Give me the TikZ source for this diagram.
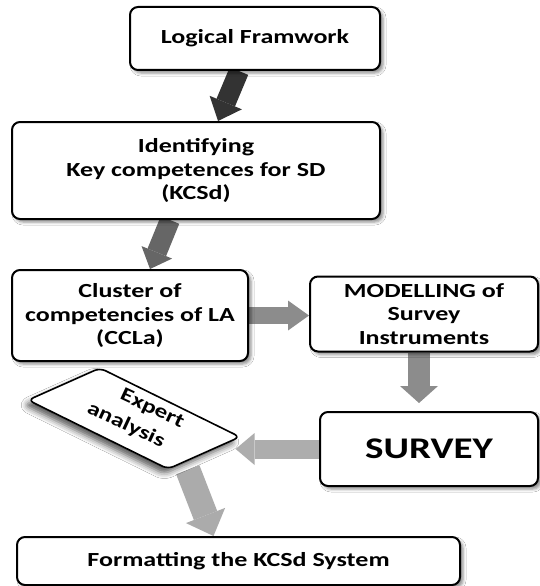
\documentclass[tikz,border=0pt]{standalone}
\usepackage{fontspec}
\setmainfont{Carlito}[FakeStretch=1.3]
\usetikzlibrary{arrows.meta,shadows.blur,calc}
\pgfdeclarelayer{bg}
\pgfsetlayers{bg,main}
\begin{document}
\begin{tikzpicture}[x=1pt,y=-1pt,
  box/.style={draw=black, line width=2pt, rounded corners=8pt, fill=white, align=center, inner sep=0pt,
    font=\bfseries\fontsize{20}{23.5}\selectfont,
    blur shadow={shadow xshift=3pt, shadow yshift=-3pt, shadow blur radius=3pt, shadow opacity=45}},
  barrow/.style n args={4}{draw=#1, line width=#2, -{Triangle[width=#3,length=#4,line width=0pt]}},
  eatext/.style={rotate=-25, inner sep=0pt, font=\bfseries\fontsize{19.5}{24}\selectfont},
]
\useasboundingbox (0,0) rectangle (540,586);

\node[box, minimum width=250pt, minimum height=63pt] (lf) at (255,38.5) {Logical Framwork};
\node[box, minimum width=368pt, minimum height=97pt] (kc) at (196,170.5) {Identifying\\Key competences for SD\\(KCSd)};
\node[box, minimum width=236pt, minimum height=91pt] (cc) at (130,315.5) {Cluster of\\competencies of LA\\(CCLa)};
\node[box, minimum width=228pt, minimum height=75pt] (md) at (424,314) {MODELLING of\\Survey\\Instruments};
\node[box, minimum width=218pt, minimum height=74pt, font=\bfseries\fontsize{30}{36}\selectfont] (sv) at (429,449) {SURVEY};
\node[box, minimum width=443pt, minimum height=48pt] (fm) at (238.5,561) {Formatting the KCSd System};

\node[draw=black, line width=1.6pt, rounded corners=6pt, fill=white, inner sep=0pt,
  rotate=-26.2, xslant=0.833, transform shape,
  minimum width=156pt, minimum height=60.5pt,
  blur shadow={shadow xshift=-4pt, shadow yshift=-5pt, shadow blur radius=6pt, shadow opacity=65}]
  (ea) at (134,418.5) {};
\node[eatext] (ea1) at (152,409) {Expert};
\node[eatext] (ea2) at (126,425) {analysis};

\begin{pgfonlayer}{bg}
\fill[white] (0,0) rectangle (540,586);
\draw[barrow={black!80}{20pt}{35pt}{20pt}] ([xshift=-16pt]lf.south) -- ([xshift=22pt]kc.north);
\draw[barrow={black!60}{20pt}{33pt}{18pt}] ([xshift=-26pt]kc.south) -- ([xshift=20pt]cc.north);
\draw[barrow={black!45}{17pt}{30pt}{21pt}] (cc.east) -- (cc.east -| md.west);
\draw[barrow={black!45}{22pt}{38pt}{17pt}] ([xshift=-5pt]md.south) -- ([xshift=-5pt,yshift=8pt]md.south |- sv.north);
\draw[barrow={black!32}{19pt}{32pt}{19pt}] ([xshift=4pt]sv.west) -- ([xshift=-6pt]sv.west -| ea.north east);
\draw[barrow={black!33}{25pt}{42pt}{22pt}] ([xshift=20pt]ea.south east) -- ([xshift=-25pt]fm.north);
\end{pgfonlayer}
\end{tikzpicture}
\end{document}
